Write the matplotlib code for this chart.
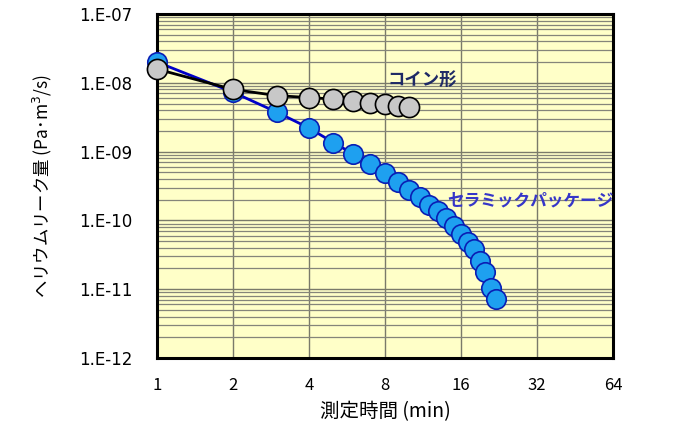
import matplotlib
matplotlib.use("Agg")
import matplotlib.pyplot as plt
from matplotlib.ticker import FixedLocator, NullFormatter, LogLocator

plt.rcParams['font.family'] = ['Noto Sans CJK JP', 'DejaVu Sans']

# Data
time_coin = [1, 2, 3, 4, 5, 6, 7, 8, 9, 10]
leak_coin = [1.58e-8, 8.0e-9, 6.5e-9, 6.1e-9, 5.8e-9, 5.4e-9, 5.1e-9, 4.9e-9, 4.65e-9, 4.5e-9]

time_ceramic = list(range(1, 23))
leak_ceramic = [2.0e-8, 7.3e-9, 3.7e-9, 2.2e-9, 1.35e-9, 9.2e-10, 6.7e-10, 4.9e-10,
                3.6e-10, 2.8e-10, 2.2e-10, 1.67e-10, 1.37e-10, 1.1e-10, 8.3e-11,
                6.3e-11, 4.9e-11, 3.8e-11, 2.6e-11, 1.8e-11, 1.03e-11, 7.1e-12]

x_ticks = [1, 2, 4, 8, 16, 32, 64]
x_tick_labels = ["1", "2", "4", "8", "16", "32", "64"]
y_ticks = [1e-12, 1e-11, 1e-10, 1e-9, 1e-8, 1e-7]
y_tick_labels = ["1.E-12", "1.E-11", "1.E-10", "1.E-09", "1.E-08", "1.E-07"]

label_coin = "コイン形"
label_ceramic = "セラミックパッケージ"

fig = plt.figure(figsize=(6.86, 4.29), dpi=100)
ax = fig.add_axes([0.2289, 0.1655, 0.8936 - 0.2289, 0.9674 - 0.1655])
ax.set_facecolor("#FFFFC8")

ax.set_xscale("log", base=2)
ax.set_yscale("log")
ax.set_xlim(1, 64)
ax.set_ylim(1e-12, 1e-7)

ax.xaxis.set_major_locator(FixedLocator(x_ticks))
ax.set_xticklabels(x_tick_labels, fontsize=12, family=['Noto Sans CJK JP', 'DejaVu Sans'])
ax.xaxis.set_minor_locator(FixedLocator([]))
ax.yaxis.set_major_locator(FixedLocator(y_ticks))
ax.set_yticklabels(y_tick_labels, fontsize=12, family=['DejaVu Sans'])
ax.yaxis.set_minor_locator(LogLocator(base=10, subs=range(2, 10), numticks=20))
ax.yaxis.set_minor_formatter(NullFormatter())

ax.tick_params(axis='both', which='both', length=0)
ax.tick_params(axis='x', pad=14)
ax.tick_params(axis='y', pad=18)

ax.grid(True, which='major', axis='both', color='#7a7a6a', linewidth=1.0)
ax.grid(True, which='minor', axis='y', color='#85857a', linewidth=0.9)
ax.set_axisbelow(True)

for s in ax.spines.values():
    s.set_linewidth(2.2)
    s.set_color('black')

ax.plot(time_ceramic, leak_ceramic, '-o', color='#0000C8', linewidth=2,
        markersize=14, markerfacecolor='#1EA0F0', markeredgecolor='#0A1EB4',
        markeredgewidth=1.2, zorder=3, clip_on=False)
ax.plot(time_coin, leak_coin, '-o', color='black', linewidth=2,
        markersize=14.5, markerfacecolor='#C8C8C8', markeredgecolor='black',
        markeredgewidth=1.2, zorder=4, clip_on=False)

ax.text(388 / 686, 1 - 80 / 429, label_coin, transform=fig.transFigure,
        fontsize=12.5, fontweight='bold', color='#1F2A66', va='center', ha='left')
ax.text(447 / 686, 1 - 200 / 429, label_ceramic, transform=fig.transFigure,
        fontsize=12, fontweight='bold', color='#3636C8', va='center', ha='left')

ax.set_xlabel("測定時間 (min)", fontsize=14, labelpad=5)
ax.set_ylabel("ヘリウムリーク量 (Pa･m$^3$/s)", fontsize=12.5, labelpad=18)

fig.savefig("out.png", dpi=100)
